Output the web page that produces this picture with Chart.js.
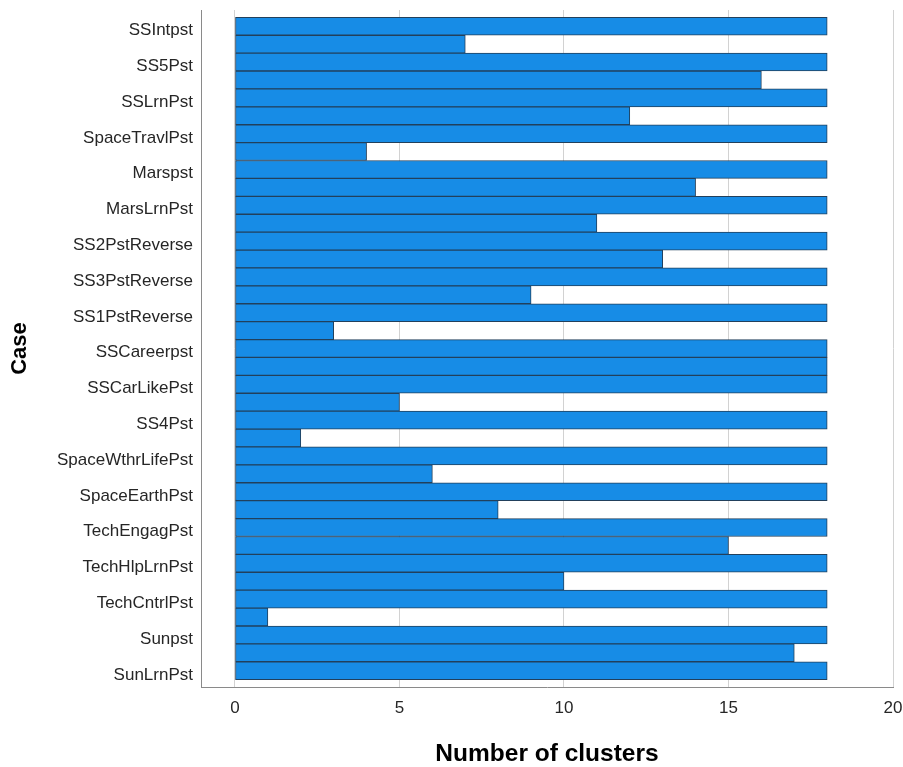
<!DOCTYPE html>
<html>
<head>
<meta charset="utf-8">
<script src="https://cdn.jsdelivr.net/npm/chart.js@4/dist/chart.umd.min.js"></script>
<style>
  html, body { margin: 0; padding: 0; background: #ffffff; }
  #wrap { width: 903px; height: 767px; position: relative; }
</style>
</head>
<body>
<div id="wrap"><canvas id="c" width="903" height="767"></canvas></div>
<script>
// Case labels (one per case row of the icicle plot)
const cases = [
  "SSIntpst", "SS5Pst", "SSLrnPst", "SpaceTravlPst", "Marspst", "MarsLrnPst",
  "SS2PstReverse", "SS3PstReverse", "SS1PstReverse", "SSCareerpst", "SSCarLikePst",
  "SS4Pst", "SpaceWthrLifePst", "SpaceEarthPst", "TechEngagPst", "TechHlpLrnPst",
  "TechCntrlPst", "Sunpst", "SunLrnPst"
];
// Bar length for every row, top to bottom (case rows and the rows between cases)
const rowValues = [
  18, 7, 18, 16, 18, 12, 18, 4, 18, 14, 18, 11, 18, 13, 18, 9, 18, 3, 18, 18,
  18, 5, 18, 2, 18, 6, 18, 8, 18, 15, 18, 10, 18, 1, 18, 17, 18
];
const xTicks = [0, 5, 10, 15, 20];
const xTitle = "Number of clusters";
const yTitle = "Case";

const points = rowValues.map((v, i) => ({ x: v, y: i }));

function zeroPad(s) {
  s.paddingTop = 0; s.paddingBottom = 0; s.paddingLeft = 0; s.paddingRight = 0;
}

new Chart(document.getElementById('c'), {
  type: 'bar',
  data: {
    datasets: [{
      data: points,
      backgroundColor: '#178ce6',
      borderColor: '#22405c',
      borderWidth: 1,
      borderSkipped: false,
      barPercentage: 1,
      categoryPercentage: 1
    }]
  },
  options: {
    indexAxis: 'y',
    responsive: false,
    animation: false,
    devicePixelRatio: 1,
    layout: { padding: { top: 10, right: 10, left: 0, bottom: 0 } },
    plugins: { legend: { display: false }, tooltip: { enabled: false } },
    scales: {
      x: {
        type: 'linear',
        position: 'bottom',
        min: -1.033,
        max: 20,
        afterBuildTicks: (s) => { s.ticks = xTicks.map(v => ({ value: v })); },
        afterFit: (s) => { s.height = 80; zeroPad(s); },
        grid: { display: true, color: '#d2d2d2', lineWidth: 1, drawTicks: false },
        border: { display: true, color: '#8a8a8a', width: 1 },
        ticks: {
          padding: 11,
          color: '#262626',
          font: { family: 'Liberation Sans, Arial, sans-serif', size: 17 }
        },
        title: {
          display: true,
          text: xTitle,
          color: '#000000',
          padding: { top: 0, bottom: 1 },
          font: { family: 'Liberation Sans, Arial, sans-serif', size: 24.5, weight: 'bold', lineHeight: 1 }
        }
      },
      y: {
        type: 'linear',
        position: 'left',
        reverse: true,
        offset: false,
        min: -0.91,
        max: 36.91,
        afterBuildTicks: (s) => { s.ticks = cases.map((_, k) => ({ value: 2 * k + 0.24 })); },
        afterFit: (s) => { s.width = 201; zeroPad(s); },
        grid: { display: false, drawTicks: false, offset: false },
        border: { display: true, color: '#8a8a8a', width: 1 },
        ticks: {
          autoSkip: false,
          padding: 8,
          color: '#262626',
          font: { family: 'Liberation Sans, Arial, sans-serif', size: 17 },
          callback: (v, i) => cases[i]
        },
        title: {
          display: true,
          text: yTitle,
          color: '#000000',
          padding: { top: 9, bottom: 0 },
          font: { family: 'Liberation Sans, Arial, sans-serif', size: 22, weight: 'bold', lineHeight: 1 }
        }
      }
    }
  }
});
</script>
</body>
</html>
